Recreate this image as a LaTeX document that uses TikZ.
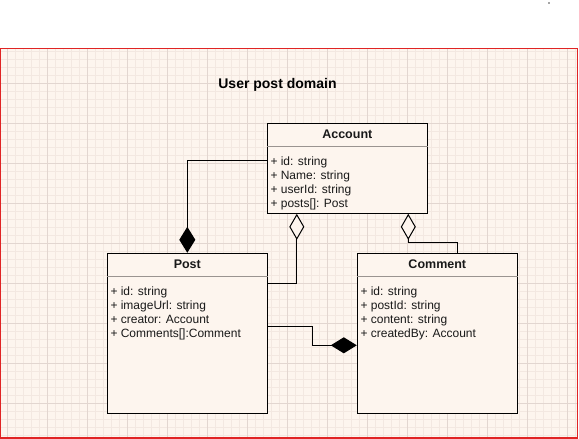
\documentclass[tikz,border=0pt]{standalone}
\usepackage{fontspec}
\setmainfont{Liberation Sans}
\usetikzlibrary{arrows.meta}
\definecolor{bgc}{HTML}{FDF5EE}
\definecolor{minorc}{HTML}{F3E8E1}
\definecolor{majorc}{HTML}{E2D6D0}
\definecolor{framec}{HTML}{E02424}
\definecolor{sepc}{HTML}{9A9490}
\tikzset{
  umlbox/.style={draw=black, line width=1pt, fill=bgc, rectangle, inner sep=0pt, minimum width=160pt},
  hdr/.style={font=\fontsize{12.5}{14}\selectfont\bfseries, inner sep=0pt, text=black!90},
  attrs/.style={font=\fontsize{12}{14}\selectfont, align=left, inner sep=0pt, anchor=west, text=black!90},
  sepline/.style={draw=sepc, line width=0.8pt},
  conn/.style={draw=black, line width=1pt},
  comp/.style={conn, -{Diamond[length=26pt,width=16pt,fill=black]}},
  agg/.style={conn, -{Diamond[length=26pt,width=15pt,fill=bgc,line width=1pt]}},
}
\begin{document}
\begin{tikzpicture}[x=1pt,y=-1pt]
\useasboundingbox (0,0) rectangle (579,439);
\fill[white] (0,0) rectangle (579,439);
% frame
\fill[bgc] (0.5,48) rectangle (578,438.5);
\begin{scope}
\clip (0.5,48) rectangle (578,438.5);
\foreach \x in {-1,7,...,580} \draw[minorc, line width=0.5pt] (\x,48) -- (\x,439);
\foreach \y in {51.3,59.3,...,440} \draw[minorc, line width=0.5pt] (0,\y) -- (579,\y);
\foreach \x in {7,47,...,580} \draw[majorc, line width=0.6pt] (\x,48) -- (\x,439);
\foreach \y in {83.3,123.3,...,440} \draw[majorc, line width=0.6pt] (0,\y) -- (579,\y);
\end{scope}
\draw[framec, line width=1.2pt] (0.6,48.6) rectangle (577.7,438);
\fill[black!70] (549,3) circle (0.8);
% title
\node[font=\fontsize{14}{16}\selectfont\bfseries, inner sep=0pt] (title) at (277.5,85) {User post domain};
% boxes
\node[umlbox, minimum height=90pt] (acc) at (347.3,168.3) {};
\node[umlbox, minimum height=160pt] (post) at (187.3,333.3) {};
\node[umlbox, minimum height=160pt] (comm) at (437.3,333.3) {};
% headers
\node[hdr] (acch) at ([yshift=-11.5pt]acc.north) {Account};
\node[hdr] (posth) at ([yshift=-11.5pt]post.north) {Post};
\node[hdr] (commh) at ([yshift=-11.5pt]comm.north) {Comment};
\draw[sepline] ([yshift=-24pt]acc.north west) -- ([yshift=-24pt]acc.north east);
\draw[sepline] ([yshift=-24pt]post.north west) -- ([yshift=-24pt]post.north east);
\draw[sepline] ([yshift=-24pt]comm.north west) -- ([yshift=-24pt]comm.north east);
% attributes
\node[attrs] (acca) at ([xshift=3.5pt,yshift=-60.5pt]acc.north west) {+ id: string\\+ Name: string\\+ userId: string\\+ posts[]: Post};
\node[attrs] (posta) at ([xshift=3.5pt,yshift=-60.5pt]post.north west) {+ id: string\\+ imageUrl: string\\+ creator: Account\\+ Comments[]:Comment};
\node[attrs] (comma) at ([xshift=3.5pt,yshift=-60.5pt]comm.north west) {+ id: string\\+ postId: string\\+ content: string\\+ createdBy: Account};
% connectors
\draw[comp] ([yshift=8.3pt]acc.west) -| (post.north);
\draw[agg] ([yshift=50pt]post.east) -| ([xshift=30pt]acc.south west);
\draw[agg] ([xshift=20.4pt]comm.north) -- ++(0,-10) -| ([xshift=61pt]acc.south);
\draw[comp] ([yshift=6.6pt]post.east) -- ++(45,0) |- ([yshift=-12pt]comm.west);
\end{tikzpicture}
\end{document}
